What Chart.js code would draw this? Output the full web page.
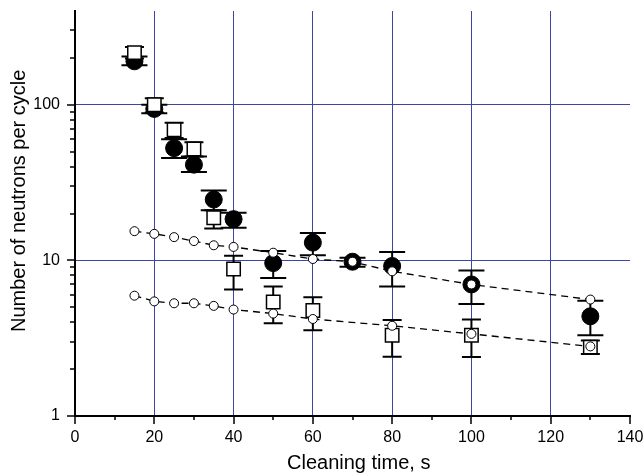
<!DOCTYPE html>
<html>
<head>
<meta charset="utf-8">
<script src="https://cdn.jsdelivr.net/npm/chart.js@4.4.0/dist/chart.umd.min.js"></script>
<style>
  html, body { margin: 0; padding: 0; background: #fff; }
  #wrap { width: 644px; height: 476px; position: relative; }
</style>
</head>
<body>
<div id="wrap"><canvas id="neutronChart"></canvas></div>
<script>
// cleaning time, s
const timesFilled = [15, 20, 25, 30, 35, 40, 50, 60, 70, 80, 100, 130];
const timesSquare = [15, 20, 25, 30, 35, 40, 50, 60, 80, 100, 130];
const timesUpper = [15, 20, 25, 30, 35, 40, 50, 60, 70, 80, 100, 130];
const timesLower = [15, 20, 25, 30, 35, 40, 50, 60, 80, 100, 130];

// neutrons per cycle, filled circles
const filledValues = [190, 94, 52.6, 41.2, 24.6, 18.4, 9.6, 13, 9.8, 9.2, 7.0, 4.37];
const filledHi = [204, 100, 60, 46.4, 28.1, 20.2, 11.5, 15, 10.4, 11.3, 8.6, 5.5];
const filledLo = [179, 88, 45.5, 37, 21, 16.2, 7.7, 10.8, 9.1, 6.8, 5.25, 3.3];

// neutrons per cycle, open squares
const squareValues = [216, 100, 69, 52, 18.8, 8.8, 5.4, 4.76, 3.3, 3.3, 2.77];
const squareHi = [235, 110, 76.6, 57.4, 21, 10.7, 6.8, 5.8, 4.14, 4.17, 3.06];
const squareLo = [198, 89, 61, 46.4, 16, 6.5, 3.95, 3.55, 2.4, 2.39, 2.5];

// small open circles on the dashed lines
const upperValues = [15.4, 14.8, 14.1, 13.3, 12.5, 12.2, 11.2, 10.2, 9.8, 8.5, 7.0, 5.6];
const lowerValues = [5.93, 5.45, 5.3, 5.3, 5.1, 4.83, 4.55, 4.2, 3.8, 3.37, 2.8];

const xTickValues = [0, 10, 20, 30, 40, 50, 60, 70, 80, 90, 100, 110, 120, 130, 140];
const xTickLabels = ['0', '', '20', '', '40', '', '60', '', '80', '', '100', '', '120', '', '140'];
const yTickValues = [1, 2, 3, 4, 5, 6, 7, 8, 9, 10, 20, 30, 40, 50, 60, 70, 80, 90, 100, 200, 300];
const yMajorLabels = { 1: '1', 10: '10', 100: '100' };

const gridBlue = '#3b45a3';
const FONT = 'Liberation Sans, Arial, Helvetica, sans-serif';

function toPoints(xs, ys) {
    return xs.map((x, i) => ({ x: x, y: ys[i] }));
}

// no extra room for overhanging labels, the plot box is set by layout padding
function noOverflow(scale) {
    scale.paddingTop = 0;
    scale.paddingBottom = 0;
    scale.paddingLeft = 0;
    scale.paddingRight = 0;
}

// vertical error bars drawn right before the dataset's own markers
const errorBars = {
    id: 'errorBars',
    beforeDatasetDraw(chart, args) {
        const ds = chart.data.datasets[args.index];
        if (!ds.errHi) return;
        const { ctx, scales: { x, y } } = chart;
        const w = ds.capWidth / 2;
        ctx.save();
        ctx.strokeStyle = '#000';
        ctx.lineWidth = 2;
        ds.data.forEach((p, i) => {
            const px = x.getPixelForValue(p.x);
            const top = y.getPixelForValue(ds.errHi[i]);
            const bot = y.getPixelForValue(ds.errLo[i]);
            ctx.beginPath();
            ctx.moveTo(px, top);
            ctx.lineTo(px, bot);
            ctx.moveTo(px - w, top);
            ctx.lineTo(px + w, top);
            ctx.moveTo(px - w, bot);
            ctx.lineTo(px + w, bot);
            ctx.stroke();
        });
        ctx.restore();
    }
};

// outside tick marks (major/minor) and the axis titles
const axisDecor = {
    id: 'axisDecor',
    afterDraw(chart) {
        const { ctx, chartArea: a, scales: { x, y } } = chart;
        ctx.save();
        ctx.strokeStyle = '#000';
        ctx.lineWidth = 1.5;
        ctx.beginPath();
        xTickValues.forEach((v, i) => {
            const px = Math.round(x.getPixelForValue(v));
            const len = xTickLabels[i] ? 8 : 4;
            ctx.moveTo(px, a.bottom);
            ctx.lineTo(px, a.bottom + len);
        });
        yTickValues.forEach(v => {
            const py = Math.round(y.getPixelForValue(v));
            const len = yMajorLabels[v] ? 8 : 5;
            ctx.moveTo(a.left - len, py);
            ctx.lineTo(a.left, py);
        });
        ctx.stroke();

        ctx.fillStyle = '#000';
        ctx.font = '20px ' + FONT;
        ctx.textAlign = 'left';
        ctx.textBaseline = 'alphabetic';
        ctx.fillText('Cleaning time, s', 287, 469);

        ctx.translate(25, 332);
        ctx.rotate(-Math.PI / 2);
        ctx.fillText('Number of neutrons per cycle', 0, 0);
        ctx.restore();
    }
};

const ctx = document.getElementById('neutronChart').getContext('2d');

new Chart(ctx, {
    type: 'scatter',
    data: {
        datasets: [
            {
                label: 'upper',
                data: toPoints(timesUpper, upperValues),
                showLine: true,
                borderColor: '#000',
                borderWidth: 1.3,
                borderDash: [7, 5],
                pointRadius: 4.5,
                pointBackgroundColor: '#fff',
                pointBorderColor: '#000',
                pointBorderWidth: 1
            },
            {
                label: 'lower',
                data: toPoints(timesLower, lowerValues),
                showLine: true,
                borderColor: '#000',
                borderWidth: 1.3,
                borderDash: [7, 5],
                pointRadius: 4.5,
                pointBackgroundColor: '#fff',
                pointBorderColor: '#000',
                pointBorderWidth: 1
            },
            {
                label: 'squares',
                data: toPoints(timesSquare, squareValues),
                errHi: squareHi,
                errLo: squareLo,
                capWidth: 19,
                pointStyle: 'rect',
                pointRadius: 9.5,
                pointBackgroundColor: '#fff',
                pointBorderColor: '#000',
                pointBorderWidth: 1.5
            },
            {
                label: 'filled',
                data: toPoints(timesFilled, filledValues),
                errHi: filledHi,
                errLo: filledLo,
                capWidth: 26,
                pointStyle: 'circle',
                pointRadius: 8.5,
                pointBackgroundColor: '#000',
                pointBorderColor: '#000',
                pointBorderWidth: 1
            }
        ]
    },
    options: {
        responsive: true,
        maintainAspectRatio: false,
        animation: false,
        layout: {
            padding: { top: 8, right: 14, left: 0, bottom: 0 }
        },
        plugins: {
            legend: { display: false },
            tooltip: { enabled: false }
        },
        scales: {
            x: {
                type: 'linear',
                min: 0,
                max: 140,
                afterFit: scale => { scale.height = 60; noOverflow(scale); },
                afterBuildTicks: scale => {
                    scale.ticks = xTickValues.map(v => ({ value: v }));
                },
                border: { display: true, color: '#000', width: 2 },
                grid: {
                    drawTicks: false,
                    lineWidth: 1,
                    color: c => (c.tick && c.tick.value % 20 === 0 && c.tick.value > 0 && c.tick.value < 140) ? gridBlue : 'rgba(0,0,0,0)'
                },
                ticks: {
                    autoSkip: false,
                    maxRotation: 0,
                    padding: 12,
                    color: '#000',
                    font: { family: FONT, size: 16 },
                    callback: (value, index) => xTickLabels[index]
                }
            },
            y: {
                type: 'logarithmic',
                min: 1,
                max: 400,
                afterFit: scale => { scale.width = 75; noOverflow(scale); },
                afterBuildTicks: scale => {
                    scale.ticks = yTickValues.map(v => ({ value: v }));
                },
                border: { display: true, color: '#000', width: 2 },
                grid: {
                    drawTicks: false,
                    lineWidth: 1,
                    color: c => (c.tick && (c.tick.value === 10 || c.tick.value === 100)) ? gridBlue : 'rgba(0,0,0,0)'
                },
                ticks: {
                    autoSkip: false,
                    padding: 15,
                    color: '#000',
                    font: { family: FONT, size: 16 },
                    callback: value => yMajorLabels[value] || ''
                }
            }
        }
    },
    plugins: [errorBars, axisDecor]
});
</script>
</body>
</html>
